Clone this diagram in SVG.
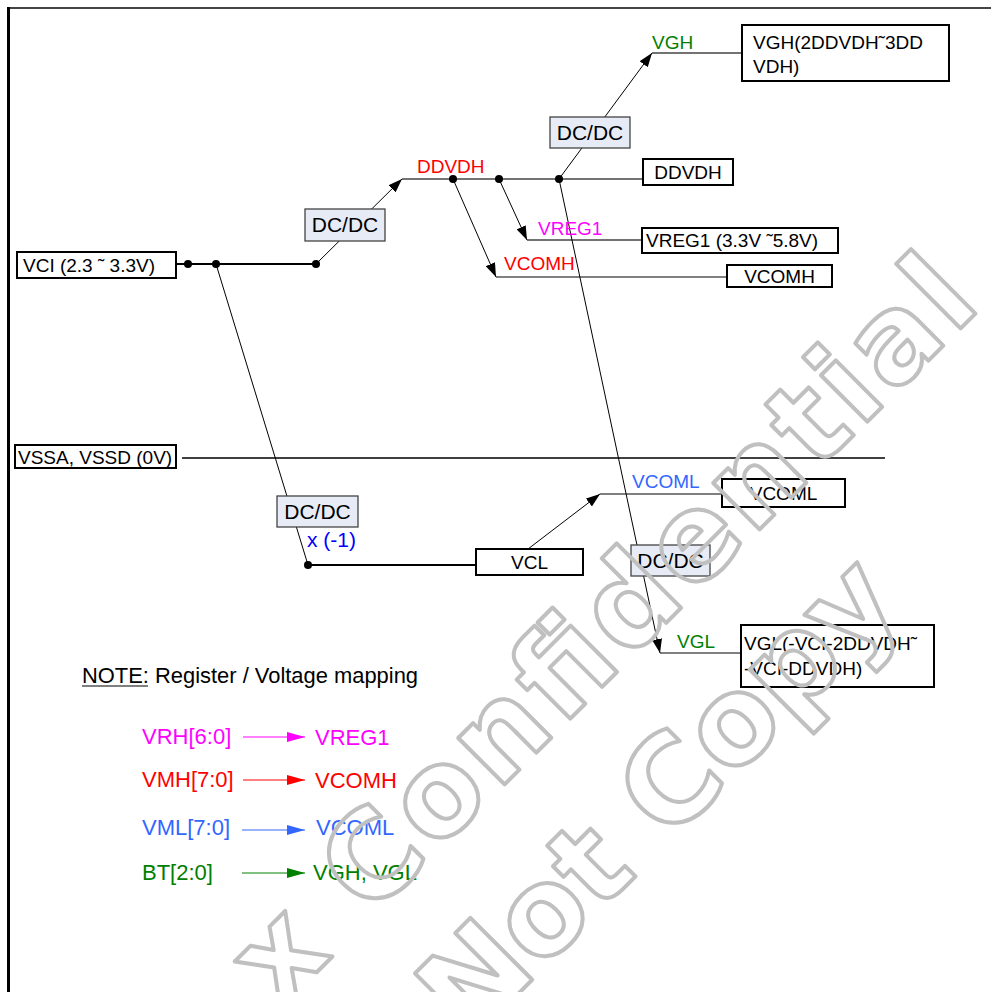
<svg xmlns="http://www.w3.org/2000/svg" width="991" height="992" viewBox="0 0 991 992">
<defs>
<style>
text{font-family:"Liberation Sans",Arial,sans-serif;}
.t{font-size:19px;fill:#000;}
.lbl{font-size:19px;}
.dc{font-size:21px;fill:#000;text-anchor:middle;}
.box{fill:#fff;stroke:#000;stroke-width:2;}
.dcb{fill:#e6ebf5;stroke:#444;stroke-width:1.3;}
.ln{stroke:#000;stroke-width:1;fill:none;}
.gl{stroke:#444;stroke-width:1.5;fill:none;}
.thk{stroke:#000;stroke-width:2;fill:none;}
.map{font-size:22px;}
.wm{font-family:"DejaVu Sans",Verdana,sans-serif;font-weight:bold;font-size:120px;fill:none;stroke:#c0c0c0;stroke-width:4;stroke-linejoin:round;}
</style>
<marker id="ah" viewBox="0 0 14 10" refX="14" refY="5" markerWidth="14" markerHeight="10" orient="auto" markerUnits="userSpaceOnUse"><path d="M0,0 L14,5 L0,10 z" fill="#000"/></marker>
<marker id="am" viewBox="0 0 18 10" refX="18" refY="5" markerWidth="18" markerHeight="10" orient="auto" markerUnits="userSpaceOnUse"><path d="M0,0 L18,5 L0,10 z" fill="#ff00ff"/></marker>
<marker id="ar" viewBox="0 0 18 10" refX="18" refY="5" markerWidth="18" markerHeight="10" orient="auto" markerUnits="userSpaceOnUse"><path d="M0,0 L18,5 L0,10 z" fill="#ff0000"/></marker>
<marker id="ab" viewBox="0 0 18 10" refX="18" refY="5" markerWidth="18" markerHeight="10" orient="auto" markerUnits="userSpaceOnUse"><path d="M0,0 L18,5 L0,10 z" fill="#3366ff"/></marker>
<marker id="ag" viewBox="0 0 18 10" refX="18" refY="5" markerWidth="18" markerHeight="10" orient="auto" markerUnits="userSpaceOnUse"><path d="M0,0 L18,5 L0,10 z" fill="#008000"/></marker>
</defs>
<rect width="991" height="992" fill="#fff"/>
<!-- frame -->
<line x1="7" y1="8" x2="991" y2="8" stroke="#444" stroke-width="2"/>
<line x1="8.5" y1="7" x2="8.5" y2="992" stroke="#000" stroke-width="3"/>

<g id="connectors">
<line class="thk" x1="176" y1="264" x2="316" y2="264"/>
<line class="ln" x1="316" y1="264" x2="402" y2="179" marker-end="url(#ah)"/>
<line class="gl" x1="402" y1="179" x2="643" y2="179"/>
<line class="ln" x1="559" y1="179" x2="652" y2="53" marker-end="url(#ah)"/>
<line class="gl" x1="652" y1="53" x2="742" y2="53"/>
<line class="ln" x1="499" y1="179" x2="527" y2="240" marker-end="url(#ah)"/>
<line class="gl" x1="527" y1="240" x2="642" y2="240"/>
<line class="ln" x1="453" y1="179" x2="496" y2="277" marker-end="url(#ah)"/>
<line class="ln" x1="496" y1="277" x2="727" y2="277"/>
<line class="ln" x1="559" y1="179" x2="660" y2="653" marker-end="url(#ah)"/>
<line class="ln" x1="660" y1="653" x2="741" y2="653"/>
<line class="ln" x1="216" y1="264" x2="308" y2="565"/>
<line class="thk" x1="308" y1="565" x2="476" y2="565"/>
<line class="ln" x1="528" y1="549" x2="600" y2="494" marker-end="url(#ah)"/>
<line class="ln" x1="600" y1="494" x2="722" y2="494"/>
<line x1="182" y1="458" x2="885" y2="458" stroke="#000" stroke-width="1.5"/>
<g fill="#000">
<circle cx="188" cy="264" r="4"/>
<circle cx="216" cy="264" r="4"/>
<circle cx="316" cy="264" r="4"/>
<circle cx="453" cy="179" r="4"/>
<circle cx="499" cy="179" r="4"/>
<circle cx="559" cy="179" r="4"/>
<circle cx="308" cy="565" r="4"/>
</g>
</g>

<g id="vci"><rect class="box" x="17" y="252" width="159" height="26"/><text class="t" x="23" y="272">VCI (2.3 ˜ 3.3V)</text></g>
<g id="vssa"><rect class="box" x="15" y="445" width="161" height="23"/><text class="t" x="18" y="464">VSSA, VSSD (0V)</text></g>
<g id="dcdc1"><rect class="dcb" x="305" y="209" width="80" height="32"/><text class="dc" x="345" y="232">DC/DC</text></g>
<g id="dcdc2"><rect class="dcb" x="550" y="117" width="80" height="31"/><text class="dc" x="590" y="140">DC/DC</text></g>
<g id="dcdc3"><rect class="dcb" x="277" y="496" width="81" height="31"/><text class="dc" x="317.5" y="519">DC/DC</text><text x="307" y="547" font-size="21" fill="#0000ff">x (-1)</text></g>
<g id="dcdc4"><rect class="dcb" x="631" y="545" width="79" height="31"/><text class="dc" x="670.5" y="568">DC/DC</text></g>

<g id="ddvdh-label"><text class="lbl" x="417" y="173" fill="#ff0000">DDVDH</text></g>
<g id="ddvdh"><rect class="box" x="643" y="159" width="90" height="26"/><text class="t" x="688" y="179" text-anchor="middle">DDVDH</text></g>
<g id="vgh-label"><text class="lbl" x="652" y="49" fill="#008000">VGH</text></g>
<g id="vgh"><rect class="box" x="742" y="25" width="207" height="56"/><text class="t" x="753" y="49">VGH(2DDVDH˜3DD</text><text class="t" x="753" y="73">VDH)</text></g>
<g id="vreg1-label"><text class="lbl" x="538" y="235" fill="#ff00ff">VREG1</text></g>
<g id="vreg1"><rect class="box" x="642" y="228" width="196" height="25"/><text class="t" x="646" y="247">VREG1 (3.3V ˜5.8V)</text></g>
<g id="vcomh-label"><text class="lbl" x="504" y="270" fill="#ff0000">VCOMH</text></g>
<g id="vcomh"><rect class="box" x="727" y="265" width="105" height="22"/><text class="t" x="779.5" y="283" text-anchor="middle">VCOMH</text></g>
<g id="vcoml-label"><text class="lbl" x="632" y="488" fill="#3366ff">VCOML</text></g>
<g id="vcoml"><rect class="box" x="722" y="479" width="123" height="28"/><text class="t" x="783.5" y="500" text-anchor="middle">VCOML</text></g>
<g id="vcl"><rect class="box" x="476" y="549" width="107" height="26"/><text class="t" x="529.5" y="569" text-anchor="middle">VCL</text></g>
<g id="vgl-label"><text class="lbl" x="677" y="648" fill="#008000">VGL</text></g>
<g id="vgl"><rect class="box" x="741" y="625" width="193" height="62"/><text class="t" x="744" y="650">VGL(-VCI-2DDVDH˜</text><text class="t" x="744" y="675">-VCI-DDVDH)</text></g>

<g id="note">
<text x="82" y="683" font-size="22" fill="#000" textLength="336" lengthAdjust="spacingAndGlyphs">NOTE: Register / Voltage mapping</text>
<line x1="82" y1="686" x2="148" y2="686" stroke="#000" stroke-width="1.2"/>
<text class="map" x="142" y="744" fill="#ff00ff">VRH[6:0]</text>
<line x1="243" y1="737" x2="305" y2="737" stroke="#ff00ff" stroke-width="1" marker-end="url(#am)"/>
<text class="map" x="315" y="745" fill="#ff00ff">VREG1</text>
<text class="map" x="142" y="787" fill="#ff0000">VMH[7:0]</text>
<line x1="243" y1="780" x2="305" y2="780" stroke="#ff0000" stroke-width="1" marker-end="url(#ar)"/>
<text class="map" x="315" y="788" fill="#ff0000">VCOMH</text>
<text class="map" x="142" y="835" fill="#3366ff">VML[7:0]</text>
<line x1="242" y1="830" x2="305" y2="830" stroke="#3366ff" stroke-width="1" marker-end="url(#ab)"/>
<text class="map" x="316" y="835" fill="#3366ff">VCOML</text>
<text class="map" x="142" y="880" fill="#008000">BT[2:0]</text>
<line x1="242" y1="873" x2="305" y2="873" stroke="#008000" stroke-width="1" marker-end="url(#ag)"/>
<text class="map" x="313" y="880" fill="#008000">VGH, VGL</text>
</g>

<g id="watermark">
<text class="wm" transform="translate(279,1010) rotate(-45)" x="0" y="0" textLength="995" lengthAdjust="spacing">x Confidential</text>
<text class="wm" transform="translate(469,1043) rotate(-45)" x="0" y="0">Not Copy</text>
</g>
</svg>
